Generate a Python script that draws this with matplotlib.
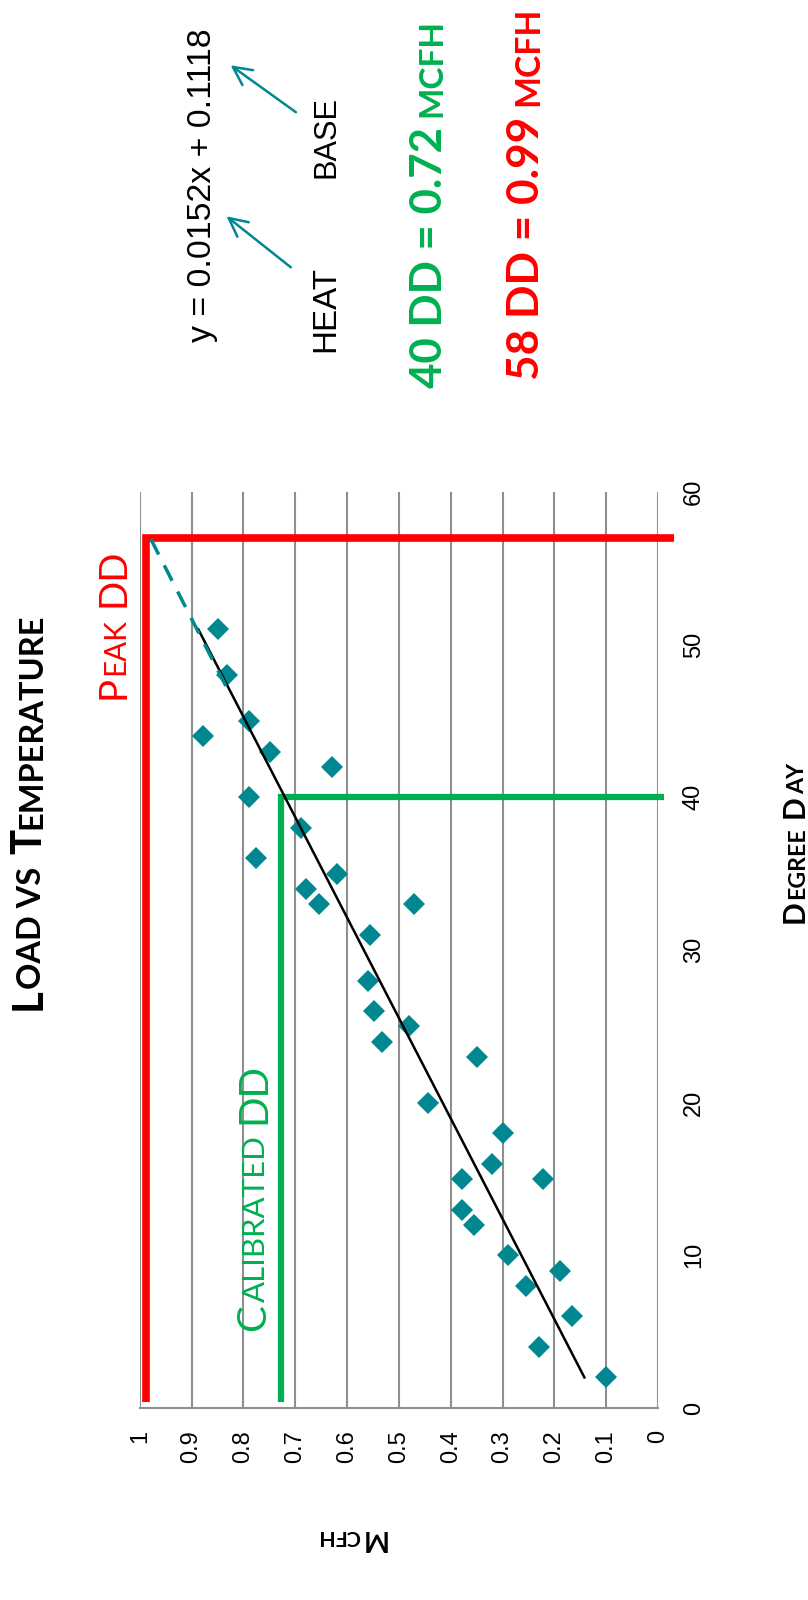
import numpy as np
import matplotlib
matplotlib.use('Agg')
import matplotlib.pyplot as plt
from matplotlib.transforms import IdentityTransform

# degree day vs load (MCFH) readings
deg_day = [2, 4, 6, 8, 9, 10, 12, 13, 15, 15, 16, 18, 20, 23, 24, 25, 26, 28, 31,
           33, 33, 34, 35, 36, 38, 40, 42, 43, 44, 45, 48, 51]
mcfh = [0.100, 0.229, 0.166, 0.254, 0.190, 0.290, 0.356, 0.379, 0.379, 0.221, 0.321,
        0.300, 0.444, 0.350, 0.533, 0.481, 0.549, 0.560, 0.556, 0.654, 0.470, 0.679,
        0.619, 0.776, 0.689, 0.789, 0.630, 0.749, 0.879, 0.790, 0.831, 0.850]

# linear trend (y = 0.0152x + 0.1118) end points and its dashed extension
trend_dd = [2, 51]
trend_mcfh = [0.142, 0.887]
ext_dd = [47.3, 57]
ext_mcfh = [0.834, 0.980]

calib_dd, calib_mcfh = 40, 0.727
peak_dd, peak_mcfh = 57, 0.988

mcfh_ticks = [0, 0.1, 0.2, 0.3, 0.4, 0.5, 0.6, 0.7, 0.8, 0.9, 1]
mcfh_labels = ['0', '0.1', '0.2', '0.3', '0.4', '0.5', '0.6', '0.7', '0.8', '0.9', '1']
dd_ticks = [0, 10, 20, 30, 40, 50, 60]

teal = '#00878f'
red = '#ff0000'
green = '#00b050'
grid_gray = '#8f8f8f'

W, H = 808, 1600
fig = plt.figure(figsize=(W / 100, H / 100), dpi=100)
ax = fig.add_axes([139.8 / W, 192 / H, (658 - 139.8) / W, (1108 - 192) / H])

ax.set_xlim(1, 0)
ax.set_ylim(0, 60)
ax.set_axisbelow(True)
ax.set_xticks(mcfh_ticks)
ax.set_xticklabels(mcfh_labels)
ax.set_yticks(dd_ticks)
ax.yaxis.tick_right()
ax.grid(axis='x', color=grid_gray, lw=1.5)
for s in ['top', 'left', 'right']:
    ax.spines[s].set_visible(False)
ax.spines['bottom'].set_color(grid_gray)
ax.spines['bottom'].set_linewidth(1.5)
ax.tick_params(axis='x', length=0, pad=16, labelrotation=90, labelsize=17)
ax.tick_params(axis='y', length=0, pad=18, labelrotation=90, labelsize=17)
for lbl in ax.get_xticklabels() + ax.get_yticklabels():
    lbl.set_family('Liberation Sans')
for lbl in ax.get_yticklabels():
    lbl.set_va('center')

ax.plot([peak_mcfh, peak_mcfh, -0.03], [0.4, peak_dd, peak_dd], color=red, lw=5.5,
        clip_on=False, solid_joinstyle='miter', solid_capstyle='butt', zorder=2.5)
ax.plot([calib_mcfh, calib_mcfh, -0.012], [0.4, calib_dd, calib_dd], color=green, lw=4.5,
        clip_on=False, solid_joinstyle='miter', solid_capstyle='butt', zorder=2.5)
ax.plot(mcfh, deg_day, 'D', ms=11.5, color=teal, mew=0, zorder=3)
ax.plot(trend_mcfh, trend_dd, color='black', lw=1.8, zorder=4)
ax.plot(ext_mcfh, ext_dd, color=teal, lw=2.5, dashes=(5, 3.5), zorder=4)

renderer = fig.canvas.get_renderer()


def stacked(x, y, pieces, rot, target, **kw):
    # pieces (text, size, gap before in em) laid one after another on a
    # rotated baseline; sizes are scaled so the run spans `target` pixels
    def lay(k):
        arts = []
        px, py = x, y
        for s, size, gap in pieces:
            fs = size * k
            g = gap * fs * 100 / 72
            if rot == 90:
                py += g
            else:
                px -= g
            t = fig.text(px, py, s, fontsize=fs, rotation=rot, rotation_mode='anchor',
                         ha='left', va='baseline', transform=IdentityTransform(), **kw)
            bb = t.get_window_extent(renderer)
            if rot == 90:
                py = bb.y1
            else:
                px = bb.x0
            arts.append(t)
        span = (py - y) if rot == 90 else (x - px)
        return arts, span

    arts, span = lay(1.0)
    for a in arts:
        a.remove()
    lay(target / span)


bold = dict(family='Lato', weight='bold')
stacked(41, 590, [('L', 29, 0), ('OAD VS', 22.5, -0.03), ('T', 29, 0.3),
                  ('EMPERATURE', 22.5, 0.02)], 90, 396, color='black', **bold)
stacked(804, 677, [('D', 26, 0), ('EGREE', 20, 0.07), ('D', 26, 0.3), ('AY', 20, 0.05)],
        90, 160, color='black', **bold)
stacked(386, 70, [('M', 26, 0), ('CFH', 20, -0.02)], 180, 68, color='black', **bold)
stacked(124.5, 901, [('P', 22, 0), ('EAK', 17, 0.05), ('DD', 22, 0.28)], 90, 150,
        color=red, family='Lato')
stacked(265, 269, [('C', 22, 0), ('ALIBRATED', 17, 0.06), ('DD', 22, 0.28)], 90, 267,
        color=green, family='Lato')
stacked(441.7, 1212, [('40 DD = 0.72', 34, 0), ('MCFH', 26, 0.3)], 90, 369,
        color=green, **bold)
stacked(538.7, 1220.5, [('58 DD = 0.99', 34, 0), ('MCFH', 26, 0.3)], 90, 373,
        color=red, **bold)
stacked(211, 1258, [('y = 0.0152x + 0.1118', 24, 0)], 90, 313,
        color='black', family='Liberation Sans')
stacked(334.6, 1248, [('HEAT', 24, 0)], 90, 86, color='black', family='Liberation Sans')
stacked(334.6, 1421.5, [('BASE', 24, 0)], 90, 82, color='black', family='Liberation Sans')

arrow = dict(arrowstyle='->,head_length=0.6,head_width=0.3', color=teal, lw=1.8,
             mutation_scale=22, shrinkA=0, shrinkB=0)
ax.annotate('', xy=(226.5, 1383.7), xytext=(290.8, 1332.7), xycoords='figure pixels',
            textcoords='figure pixels', arrowprops=arrow, annotation_clip=False)
ax.annotate('', xy=(230.6, 1534.7), xytext=(295.9, 1487.8), xycoords='figure pixels',
            textcoords='figure pixels', arrowprops=arrow, annotation_clip=False)

fig.savefig('out.png', dpi=100)
